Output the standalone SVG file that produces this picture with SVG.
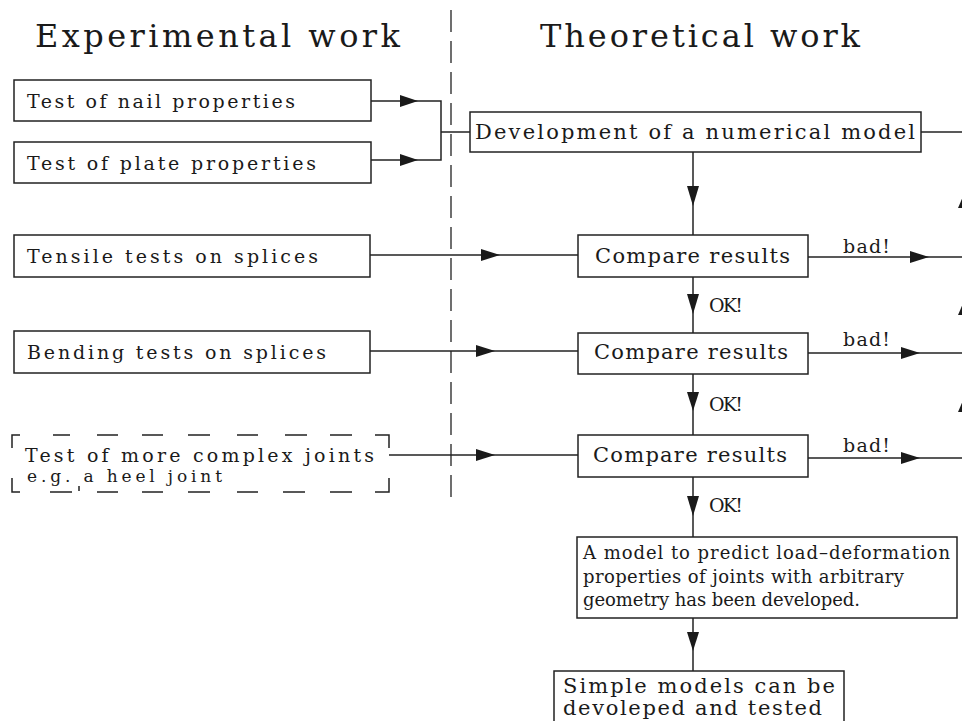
<svg xmlns="http://www.w3.org/2000/svg" width="962" height="721" viewBox="0 0 962 721">
<style>
  text { font-family: "DejaVu Serif", "Liberation Serif", serif; fill: #1a1a1a; }
  .box { fill: #fff; stroke: #222; stroke-width: 1.5; }
  .ln { stroke: #222; stroke-width: 1.5; fill: none; }
  .ah { fill: #1a1a1a; stroke: none; }
  .t19 { font-size: 19px; }
  .t21 { font-size: 21px; }
  .t18 { font-size: 18px; }
  .t17 { font-size: 17px; }
  .title { font-size: 32px; }
</style>
<rect width="962" height="721" fill="#fff"/>

<g id="titles">
  <text class="title" x="35" y="47" textLength="365" lengthAdjust="spacing">Experimental work</text>
  <text class="title" x="540" y="47" textLength="320" lengthAdjust="spacing">Theoretical work</text>
</g>

<g id="divider">
  <line x1="451" y1="10" x2="451" y2="506" stroke="#222" stroke-width="1.3" stroke-dasharray="22 9"/>
</g>

<g id="connectors">
  <path class="ln" d="M371,101 H441 V160 H371 M441,132 H470"/>
  <polygon class="ah" points="400,95 418,101 400,107"/>
  <polygon class="ah" points="400,154 418,160 400,166"/>
  <path class="ln" d="M921,132 H964"/>
  <path class="ln" d="M693,152 V235"/>
  <polygon class="ah" points="687,186 699,186 693,206"/>
  <path class="ln" d="M370,255 H578"/>
  <polygon class="ah" points="481,249 500,255 481,261"/>
  <path class="ln" d="M370,351 H578"/>
  <polygon class="ah" points="476,345 495,351 476,357"/>
  <path class="ln" d="M389,455 H578"/>
  <polygon class="ah" points="476,449 495,455 476,461"/>
  <path class="ln" d="M693,277 V333"/>
  <polygon class="ah" points="687,294 699,294 693,314"/>
  <path class="ln" d="M693,374 V435"/>
  <polygon class="ah" points="687,392 699,392 693,411"/>
  <path class="ln" d="M693,477 V537"/>
  <polygon class="ah" points="687,496 699,496 693,516"/>
  <path class="ln" d="M693,618 V671"/>
  <polygon class="ah" points="687,632 699,632 693,651"/>
  <path class="ln" d="M808,257 H964"/>
  <polygon class="ah" points="910,251 929,257 910,263"/>
  <path class="ln" d="M808,353 H964"/>
  <polygon class="ah" points="901,347 920,353 901,359"/>
  <path class="ln" d="M808,458 H964"/>
  <polygon class="ah" points="901,452 920,458 901,464"/>
  <path class="ln" d="M964,132 V458"/>
  <polygon class="ah" points="964,194 958,208 970,208"/>
  <polygon class="ah" points="964,301 958,315 970,315"/>
  <polygon class="ah" points="964,398 958,412 970,412"/>
</g>

<g id="labels">
  <text class="t19" x="709" y="312" textLength="34" lengthAdjust="spacing">OK!</text>
  <text class="t19" x="709" y="411" textLength="34" lengthAdjust="spacing">OK!</text>
  <text class="t19" x="709" y="512" textLength="34" lengthAdjust="spacing">OK!</text>
  <text class="t19" x="843" y="253" textLength="47" lengthAdjust="spacing">bad!</text>
  <text class="t19" x="843" y="346" textLength="47" lengthAdjust="spacing">bad!</text>
  <text class="t19" x="843" y="452" textLength="47" lengthAdjust="spacing">bad!</text>
</g>

<g id="nail">
  <rect class="box" x="14" y="80" width="357" height="41"/>
  <text class="t19" x="27" y="108" textLength="268" lengthAdjust="spacing">Test of nail properties</text>
</g>
<g id="plate">
  <rect class="box" x="14" y="142" width="357" height="41"/>
  <text class="t19" x="27" y="170" textLength="289" lengthAdjust="spacing">Test of plate properties</text>
</g>
<g id="tensile">
  <rect class="box" x="14" y="235" width="356" height="42"/>
  <text class="t19" x="27" y="263" textLength="291" lengthAdjust="spacing">Tensile tests on splices</text>
</g>
<g id="bending">
  <rect class="box" x="14" y="331" width="356" height="42"/>
  <text class="t19" x="27" y="359" textLength="299" lengthAdjust="spacing">Bending tests on splices</text>
</g>
<g id="complex">
  <path class="ln" d="M20,435 H12 V448 M12,478 V492 H20 M375,435 H389 V448 M389,478 V492 H375
    M53,435 H70 M97,435 H118 M142,435 H163 M188,435 H210 M237,435 H258 M285,435 H307 M330,435 H352
    M50,492 H72 M97,492 H118 M142,492 H163 M188,492 H210 M237,492 H258 M283,492 H305 M330,492 H352
    M79,486 V491"/>
  <text class="t19" x="25" y="462" textLength="349" lengthAdjust="spacing">Test of more complex joints</text>
  <text class="t17" x="27" y="482" textLength="195" lengthAdjust="spacing">e.g. a heel joint</text>
</g>
<g id="development">
  <rect class="box" x="470" y="112" width="451" height="40"/>
  <text class="t21" x="475" y="139" textLength="440" lengthAdjust="spacing">Development of a numerical model</text>
</g>
<g id="compare1">
  <rect class="box" x="578" y="235" width="230" height="42"/>
  <text class="t21" x="595" y="263" textLength="195" lengthAdjust="spacing">Compare results</text>
</g>
<g id="compare2">
  <rect class="box" x="578" y="333" width="230" height="41"/>
  <text class="t21" x="594" y="359" textLength="194" lengthAdjust="spacing">Compare results</text>
</g>
<g id="compare3">
  <rect class="box" x="578" y="435" width="230" height="42"/>
  <text class="t21" x="593" y="462" textLength="194" lengthAdjust="spacing">Compare results</text>
</g>
<g id="model">
  <rect class="box" x="577" y="537" width="380" height="81"/>
  <text class="t18" x="583" y="559" textLength="367" lengthAdjust="spacing">A model to predict load–deformation</text>
  <text class="t18" x="583" y="583" textLength="321" lengthAdjust="spacing">properties of joints with arbitrary</text>
  <text class="t18" x="583" y="606" textLength="277" lengthAdjust="spacing">geometry has been developed.</text>
</g>
<g id="simple">
  <rect class="box" x="554" y="671" width="290" height="60"/>
  <text class="t21" x="563" y="693" textLength="272" lengthAdjust="spacing">Simple models can be</text>
  <text class="t21" x="563" y="715" textLength="259" lengthAdjust="spacing">devoleped and tested</text>
</g>
</svg>
